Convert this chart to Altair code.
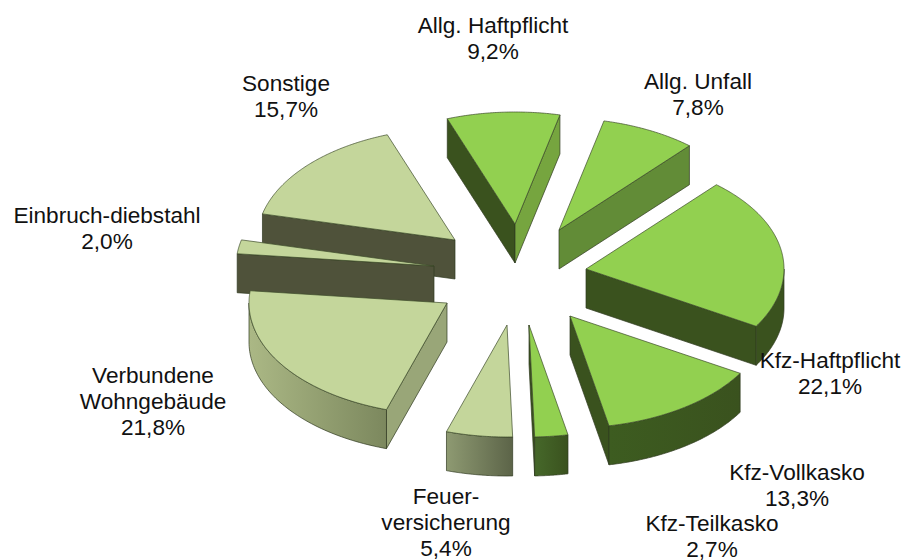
import math
import altair as alt
import pandas as pd

# Data, clockwise from the top slice
names = ["Allg. Haftpflicht", "Allg. Unfall", "Kfz-Haftpflicht", "Kfz-Vollkasko", "Kfz-Teilkasko",
         "Feuer-\nversicherung", "Verbundene\nWohngebäude", "Einbruch-diebstahl", "Sonstige"]
shares = [9.2, 7.8, 22.1, 13.3, 2.7, 5.4, 21.8, 2.0, 15.7]
groups = ["g", "g", "g", "g", "g", "t", "t", "t", "t"]

# Geometry of the exploded, tilted pie (page pixels)
START = -20.0
RX, RY, DEPTH = 198.0, 112.0, 39.0
apex = [(515, 224), (559, 230), (586, 269), (570, 316), (529, 325), (507, 325), (447, 303), (434, 266), (455, 240)]
draw_order = [0, 1, 8, 7, 2, 6, 3, 5, 4]
label_pos = [(493, 26), (698, 82), (830, 361), (797, 473), (712, 524), (446, 497), (153, 376), (107, 216), (286, 84)]

TOP = {"g": "#92D050", "t": "#C4D69B"}
EDGE = "#2f3a20"


def grad(c1, c2):
    return alt.Gradient(gradient="linear", x1=0, x2=1, y1=0, y2=0,
                        stops=[alt.GradientStop(color=c1, offset=0), alt.GradientStop(color=c2, offset=1)])


def pt(ap, deg, dz=0.0):
    r = math.radians(deg)
    return [ap[0] - 8 + RX * math.sin(r), ap[1] - 8 - RY * math.cos(r) + dz]


def poly(points, fill, width=0.7, stroke=EDGE):
    ring = points + [points[0]]
    feature = {"type": "Feature", "properties": {}, "geometry": {"type": "Polygon", "coordinates": [ring]}}
    data = alt.InlineData(values={"type": "FeatureCollection", "features": [feature]},
                          format=alt.DataFormat(property="features", type="json"))
    return (alt.Chart(data).mark_geoshape(fill=fill, stroke=stroke, strokeWidth=width)
            .project(type="identity", scale=1, translate=[0, 0]))


start_wall = {0: "#3A521E", 5: "#6C7552", 6: "#99A678", 7: "#4F523A", 8: "#4F523A"}
end_wall = {0: "#76A53F", 1: "#628C37", 2: "#3A521E", 3: "#3A521E", 4: "#3A521E", 5: "#6C7552", 6: "#99A678"}
arc_wall = {2: ("#3A521E", "#3A521E"), 3: ("#3D5C20", "#3A521E"), 4: ("#46682A", "#3A521E"),
            5: ("#8E9A72", "#5C6448"), 6: ("#ABB885", "#7C885E")}

# Slice limits from the shares
angles = [START]
for s in shares:
    angles.append(angles[-1] + s * 3.6)

layers = []
for i in draw_order:
    a, b = angles[i], angles[i + 1]
    ap = apex[i]
    steps = max(2, int(b - a) * 2)
    sweep = [a + (b - a) * k / steps for k in range(steps + 1)]
    centre = [ap[0] - 8, ap[1] - 8]
    centre_low = [centre[0], centre[1] + DEPTH]

    if math.sin(math.radians(a)) < 0 and i in start_wall:
        layers.append(poly([centre, pt(ap, a), pt(ap, a, DEPTH), centre_low], start_wall[i]))
    if math.sin(math.radians(b)) > 0 and i in end_wall:
        layers.append(poly([centre, pt(ap, b), pt(ap, b, DEPTH), centre_low], end_wall[i]))
    front = [d for d in sweep if math.cos(math.radians(d)) < 0]
    if front and i in arc_wall:
        lo, hi = max(a, 90.0), min(b, 270.0)
        front = [lo + (hi - lo) * k / 60 for k in range(61)]
        upper = [pt(ap, d) for d in front]
        lower = [pt(ap, d, DEPTH) for d in reversed(front)]
        layers.append(poly(upper + lower, grad(*arc_wall[i])))
    layers.append(poly([centre] + [pt(ap, d) for d in sweep], TOP[groups[i]], stroke="#3c4a2a"))

labels = pd.DataFrame({
    "text": [f"{n}\n{str(s).replace('.', ',')}%" for n, s in zip(names, shares)],
    "x": [p[0] - 8 for p in label_pos],
    "y": [p[1] - 8 for p in label_pos],
})
text = (alt.Chart(labels)
        .mark_text(font="Liberation Sans", fontSize=22.6, lineBreak="\n", lineHeight=26,
                   align="center", baseline="middle", color="#111111")
        .encode(x=alt.X("x:Q", scale=None, axis=None), y=alt.Y("y:Q", scale=None, axis=None), text="text:N"))

chart = (alt.layer(*layers, text)
         .properties(width=893, height=552, padding=0, autosize=alt.AutoSizeParams(type="none"),
                     background="white")
         .configure_view(stroke=None))
chart.save("out.html", embed_options={"renderer": "svg", "actions": False})
